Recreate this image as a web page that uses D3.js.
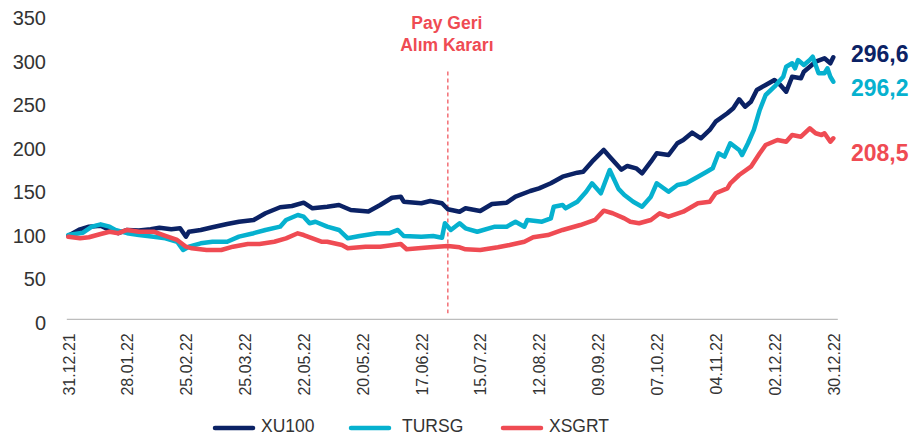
<!DOCTYPE html>
<html>
<head>
<meta charset="utf-8">
<script src="https://cdn.jsdelivr.net/npm/d3@7/dist/d3.min.js"></script>
<style>
  html, body { margin: 0; padding: 0; background: #fff; }
  svg { display: block; font-family: "Liberation Sans", Arial, Helvetica, sans-serif; }
</style>
</head>
<body>
<svg id="chart" width="911" height="436"></svg>
<script>
// ---- data ----
const tickDays = [0, 20, 40, 60, 80, 100, 120, 140, 160, 180, 200, 220, 240, 260];
const tickLabels = ["31.12.21", "28.01.22", "25.02.22", "25.03.22", "22.05.22", "20.05.22", "17.06.22",
                    "15.07.22", "12.08.22", "09.09.22", "07.10.22", "04.11.22", "02.12.22", "30.12.22"];
const yTicks = [0, 50, 100, 150, 200, 250, 300, 350];

const seriesNames = ["XU100", "TURSG", "XSGRT"];
const endLabels = ["296,6", "296,2", "208,5"];
const eventDay = 129;
const eventLabel = ["Pay Geri", "Alım Kararı"];

// [trading day index, value]
const xu100 = [[0,96],[4,103.5],[7,106.5],[11,107.5],[14,102.7],[17,99],[20,102.7],[24,102],[28,103.5],[31,105.3],
  [35,103.5],[38,104.6],[40,95],[41,100.7],[45,102.7],[49,105.8],[54,109.6],[58,112.2],[63,114.2],[67,121.9],
  [72,128.8],[76,130.3],[80,134.1],[83,127.6],[88,129.5],[92,131.4],[96,125.7],[102,124],[106,131.4],[110,139.8],
  [113,141],[114,135.2],[120,133.4],[123,136],[127,133.4],[129,126.5],[133,123.7],[135,127.6],[140,124.5],[144,132.6],
  [149,134.1],[152,141],[157,147.5],[160,150.6],[164,156.4],[168,164],[173,168.6],[175,169.7],[178,181.2],[182,194.7],
  [184,187],[186,179.4],[188,172],[190,176.3],[193,173.6],[195,167.9],[198,181.2],[200,190.9],[204,188.9],[207,202.4],
  [209,206.2],[212,214.6],[215,208.1],[218,217.7],[220,227.2],[224,236.9],[226,242.6],[228,253],[230,244.5],[232,250.2],
  [234,263.7],[237,269.4],[240,275.2],[242,269.4],[244,261.7],[246,278.9],[249,277.1],[250,284.7],[252,290.4],[254,296.2],
  [257,300.1],[259,294.4],[260,301.3]];

const tursg = [[0,97],[5,99.6],[8,106.5],[11,109.2],[14,106.5],[16,102.7],[20,99],[24,97],[29,95],[33,93.1],
  [37,89.2],[39,79.7],[41,83.5],[45,87.4],[49,89.2],[54,89.2],[58,95],[63,99],[67,102.7],[72,106.5],
  [74,114.2],[78,119.9],[80,118],[82,110.4],[84,112.2],[88,106.5],[92,102.7],[95,93.1],[99,95.8],[105,98.9],
  [109,98.9],[112,102.7],[114,95.8],[120,95],[124,95.8],[127,93.8],[128,110.4],[130,102.7],[133,110.4],[135,104.6],
  [139,100.7],[145,106.5],[149,106.5],[152,112.2],[155,106.5],[156,114.2],[161,112.2],[164,116.1],[165,129.5],[168,131.4],
  [169,127.6],[173,135.2],[176,146.7],[178,156.4],[181,144.9],[184,171.7],[187,150],[189,142.9],[192,135.2],[195,129.5],
  [198,141],[200,156.4],[204,146.7],[207,154.4],[210,156.4],[214,164],[217,169.7],[219,173.6],[221,190.9],[223,187],
  [225,202.4],[228,194.7],[229,188.9],[231,202.4],[233,217.7],[235,240.7],[237,257.9],[240,267.5],[242,275.2],[243,278.9],
  [244,290.4],[246,294.4],[247,288.6],[248,298.1],[250,292.4],[252,298.1],[253,301.9],[255,282.9],[257,282.9],[258,288.6],
  [259,278.9],[260,273.2]];

const xsgrt = [[0,95],[4,93.1],[7,94.3],[11,98.1],[14,100.7],[17,99],[20,102.7],[24,100.7],[29,100.7],[33,95.8],
  [37,91.2],[40,83.5],[42,81.6],[47,79.7],[52,79.7],[56,83.5],[61,86.6],[65,86.6],[70,89.2],[74,93.1],
  [78,98.9],[80,96.9],[83,93.1],[86,89.2],[88,89.2],[93,85.4],[95,81.6],[101,83.5],[106,83.5],[113,86.6],
  [115,80.5],[123,82.8],[129,84.3],[133,82.8],[135,80.5],[140,79.7],[146,82.8],[150,85.4],[155,89.2],[158,94.3],
  [163,96.9],[168,102.7],[174,108.4],[179,114.2],[182,124.9],[185,121.9],[189,116.1],[191,112.2],[194,110.4],[198,114.2],
  [201,121.9],[204,118],[209,123.7],[214,133.4],[218,135.2],[220,144.9],[224,150.6],[225,156.4],[228,165.9],[232,175.5],
  [235,190.9],[237,200.4],[241,206.2],[244,204.2],[246,211.9],[249,209.9],[252,219.6],[254,213.9],[256,211.9],[257,213.9],
  [259,204.2],[260,208.1]];

// ---- styles ----
const colors = ["#0b2265", "#06b1cf", "#ef4b53"];
const seriesData = [xu100, tursg, xsgrt];

const svg = d3.select("#chart");
const x = d3.scaleLinear().domain([0, 260]).range([68.3, 833.3]);
const y = d3.scaleLinear().domain([0, 350]).range([319.3, 14.9]);

// Y axis labels
const yAxis = svg.append("g").attr("transform", "translate(49,0)")
  .call(d3.axisLeft(y).tickValues(yTicks).tickSize(0).tickPadding(3));
yAxis.select(".domain").remove();
yAxis.selectAll("text").attr("font-size", 20).attr("fill", "#333")
  .attr("font-family", "Liberation Sans, Arial, sans-serif").attr("y", 3.4);

// X axis baseline
svg.append("line")
  .attr("x1", x(0) - 1.5).attr("x2", x(260) + 4.5)
  .attr("y1", y(0)).attr("y2", y(0))
  .attr("stroke", "#bdbdbd").attr("stroke-width", 1.3);

// X labels rotated
const xAxis = svg.append("g").attr("transform", `translate(0,${y(0)})`)
  .call(d3.axisBottom(x).tickValues(tickDays).tickFormat((d, i) => tickLabels[i]).tickSize(0));
xAxis.select(".domain").remove();
xAxis.selectAll("text")
  .attr("font-size", 16).attr("fill", "#333")
  .attr("font-family", "Liberation Sans, Arial, sans-serif")
  .attr("transform", "rotate(-90)")
  .attr("text-anchor", "end")
  .attr("x", -14).attr("y", 0).attr("dy", "0.36em");

// Event dashed line
svg.append("line")
  .attr("x1", x(eventDay)).attr("x2", x(eventDay))
  .attr("y1", y(285)).attr("y2", y(7))
  .attr("stroke", colors[2]).attr("stroke-width", 1.2)
  .attr("stroke-dasharray", "4,3");

svg.append("g").selectAll("text").data(eventLabel).join("text")
  .attr("x", x(eventDay) - 1)
  .attr("y", (d, i) => 28.5 + i * 22.3)
  .attr("text-anchor", "middle")
  .attr("font-size", 17.5).attr("font-weight", "bold")
  .attr("fill", colors[2])
  .text(d => d);

// Lines
const line = d3.line().x(d => x(d[0])).y(d => y(d[1])).curve(d3.curveLinear);
svg.append("g").selectAll("path").data(seriesData).join("path")
  .attr("d", line)
  .attr("fill", "none")
  .attr("stroke", (d, i) => colors[i])
  .attr("stroke-width", 4.5)
  .attr("stroke-linejoin", "round")
  .attr("stroke-linecap", "round");

// End labels
const endY = [62, 95.5, 160.5];
svg.append("g").selectAll("text").data(endLabels).join("text")
  .attr("x", 851)
  .attr("y", (d, i) => endY[i])
  .attr("font-size", 23).attr("font-weight", "bold")
  .attr("fill", (d, i) => colors[i])
  .text(d => d);

// Legend
const legendX = [215, 351, 503];
const leg = svg.append("g").selectAll("g").data(seriesNames).join("g")
  .attr("transform", (d, i) => `translate(${legendX[i]},428)`);
leg.append("line").attr("x1", 0).attr("x2", 38).attr("y1", 0).attr("y2", 0)
  .attr("stroke", (d, i) => colors[i]).attr("stroke-width", 4.5).attr("stroke-linecap", "round");
leg.append("text").attr("x", (d, i) => i === 1 ? 51 : 46).attr("y", 4)
  .attr("font-size", 17.5).attr("fill", "#333").text(d => d);
</script>
</body>
</html>
